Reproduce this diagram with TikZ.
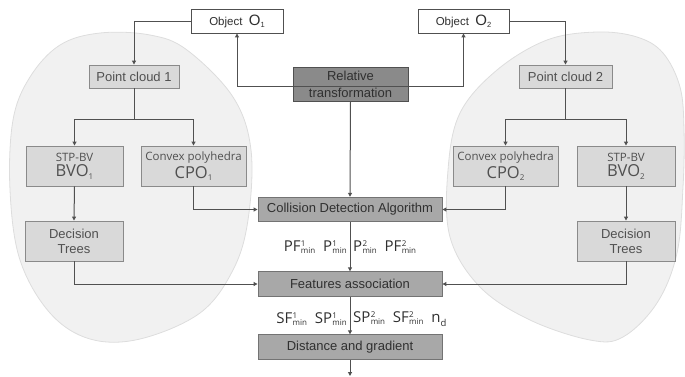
\documentclass[tikz,border=0pt]{standalone}
\usepackage{fontspec}
\setmainfont{Liberation Sans}
\newfontfamily\os{Open Sans}
\usetikzlibrary{arrows.meta}
\definecolor{blobfill}{HTML}{F1F1F1}
\definecolor{blobline}{HTML}{DDDDDD}
\definecolor{lightfill}{HTML}{D9D9D9}
\definecolor{midfill}{HTML}{A8A8A8}
\definecolor{darkfill}{HTML}{8A8A8A}
\definecolor{linecol}{HTML}{505050}
\definecolor{boxline}{HTML}{8A8A8A}
\definecolor{txtlight}{HTML}{505050}
\definecolor{txtdark}{HTML}{303030}
\newcommand\mnlab[2]{#1\kern0.3pt{\fontsize{8}{8}\selectfont\rlap{\raisebox{0.62em}{#2}}\raisebox{-0.3em}{min}}}
\newcommand\twoline[3]{{\fontsize{11.5}{13}\selectfont #1}\\[2.5pt]{\fontsize{16.5}{16.5}\selectfont #2}\raisebox{-0.25em}{\fontsize{8}{8}\selectfont #3}}
\begin{document}
\begin{tikzpicture}[x=1pt,y=-1pt,
  conn/.style={draw=linecol,line width=1pt},
  arr/.style={conn,-{Triangle[length=4pt,width=4pt]}},
  objbox/.style={draw=linecol,fill=white,line width=0.9pt,minimum height=24pt,inner sep=0pt,text=txtdark},
  lbox/.style={draw=boxline,fill=lightfill,line width=0.9pt,inner sep=0pt,text=txtlight,align=center,font=\fontsize{13}{15}\selectfont},
  cbox/.style={draw=linecol!80,fill=midfill,line width=0.9pt,inner sep=0pt,text=txtdark,align=center,font=\fontsize{13}{15}\selectfont,minimum width=184pt,minimum height=24.5pt},
  lab/.style={inner sep=0pt,text=txtdark,font=\os\fontsize{15}{16}\selectfont}]
\useasboundingbox (0,0) rectangle (685,376);
% blobs
\draw[fill=blobfill,draw=blobline,line width=0.8pt] plot[smooth cycle,tension=0.6] coordinates {
 (100,33) (150,35) (187,50) (233,97) (251,150) (248,220) (233,270) (200,313) (140,339) (90,339) (50,313) (20,260) (10,190) (13,120) (30,77) (60,45)};
\draw[fill=blobfill,draw=blobline,line width=0.8pt] plot[smooth cycle,tension=0.6] coordinates {
 (597,32) (637,37) (663,53) (680,87) (684,130) (683,187) (677,253) (657,303) (623,337) (590,340) (530,320) (480,287) (450,237) (448,170) (460,113) (497,70) (547,40)};
% nodes
\node[objbox,minimum width=92pt] (o1) at (237,21) {\fontsize{11.5}{13}\selectfont Object\ \ {\fontsize{15}{15}\selectfont O}\raisebox{-0.2em}{\fontsize{7.5}{7.5}\selectfont 1}};
\node[objbox,minimum width=91pt] (o2) at (463.5,21) {\fontsize{11.5}{13}\selectfont Object\ \ {\fontsize{15}{15}\selectfont O}\raisebox{-0.2em}{\fontsize{7.5}{7.5}\selectfont 2}};
\node[draw=linecol,fill=darkfill,line width=0.9pt,minimum width=115pt,minimum height=34pt,inner sep=0pt,text=txtdark,align=center,font=\fontsize{13}{17}\selectfont] (rel) at (350.5,84) {Relative\\transformation};
\node[lbox,minimum width=90pt,minimum height=23pt] (pc1) at (134,76.5) {Point cloud 1};
\node[lbox,minimum width=93pt,minimum height=23pt] (pc2) at (565.5,76.5) {Point cloud 2};
\node[lbox,minimum width=97pt,minimum height=40pt,font=\os] (bvo1) at (74.5,166) {\twoline{STP-BV}{BVO}{1}};
\node[lbox,minimum width=105pt,minimum height=40pt,font=\os] (cpo1) at (193.5,166) {\twoline{Convex polyhedra}{CPO}{1}};
\node[lbox,minimum width=105pt,minimum height=40pt,font=\os] (cpo2) at (505.5,166) {\twoline{Convex polyhedra}{CPO}{2}};
\node[lbox,minimum width=98pt,minimum height=40pt,font=\os] (bvo2) at (626,166) {\twoline{STP-BV}{BVO}{2}};
\node[lbox,minimum width=98pt,minimum height=40pt] (dt1) at (74,241) {Decision\\Trees};
\node[lbox,minimum width=98pt,minimum height=40pt] (dt2) at (626,241) {Decision\\Trees};
\node[cbox] (cda) at (350,209.5) {Collision Detection Algorithm};
\node[cbox] (fa) at (350,284) {Features association};
\node[cbox] (dg) at (350,347) {Distance and gradient};
% labels
\node[lab,anchor=east] (l1) at (347,247) {\mnlab{PF}{1}\ \ \mnlab{P}{1}};
\node[lab,anchor=west] (l2) at (353,247) {\mnlab{P}{2}\ \ \mnlab{PF}{2}};
\node[lab,anchor=east] (l3) at (347,319) {\mnlab{SF}{1}\ \ \mnlab{SP}{1}};
\node[lab,anchor=west] (l4) at (353,319) {\mnlab{SP}{2}\ \ \mnlab{SF}{2}\ \ n\raisebox{-0.3em}{\fontsize{9.5}{9.5}\selectfont d}};
% coordinates
\coordinate (rm) at (350.5,86);
\coordinate (b1) at (134,119);
\coordinate (b2) at (565.5,119);
\coordinate (endp) at (350,376);
% connectors
\draw[arr] (o1.west) -| (pc1.north);
\draw[arr] (o2.east) -| (pc2.north);
\draw[arr] (rm) -| (o1.south);
\draw[arr] (rm) -| (o2.south);
\draw[arr] (rel.south) -- (cda.north);
\draw[conn] (pc1.south) -- (b1);
\draw[arr] (b1) -| (bvo1.north);
\draw[arr] (b1) -| (cpo1.north);
\draw[conn] (pc2.south) -- (b2);
\draw[arr] (b2) -| (cpo2.north);
\draw[arr] (b2) -| (bvo2.north);
\draw[arr] (cpo1.south) |- (cda.west);
\draw[arr] (cpo2.south) |- (cda.east);
\draw[arr] (bvo1.south) -- (dt1.north);
\draw[arr] (bvo2.south) -- (dt2.north);
\draw[arr] (dt1.south) |- (fa.west);
\draw[arr] (dt2.south) |- (fa.east);
\draw[arr] (cda.south) -- (fa.north);
\draw[arr] (fa.south) -- (dg.north);
\draw[arr] (dg.south) -- (endp);
\end{tikzpicture}
\end{document}
